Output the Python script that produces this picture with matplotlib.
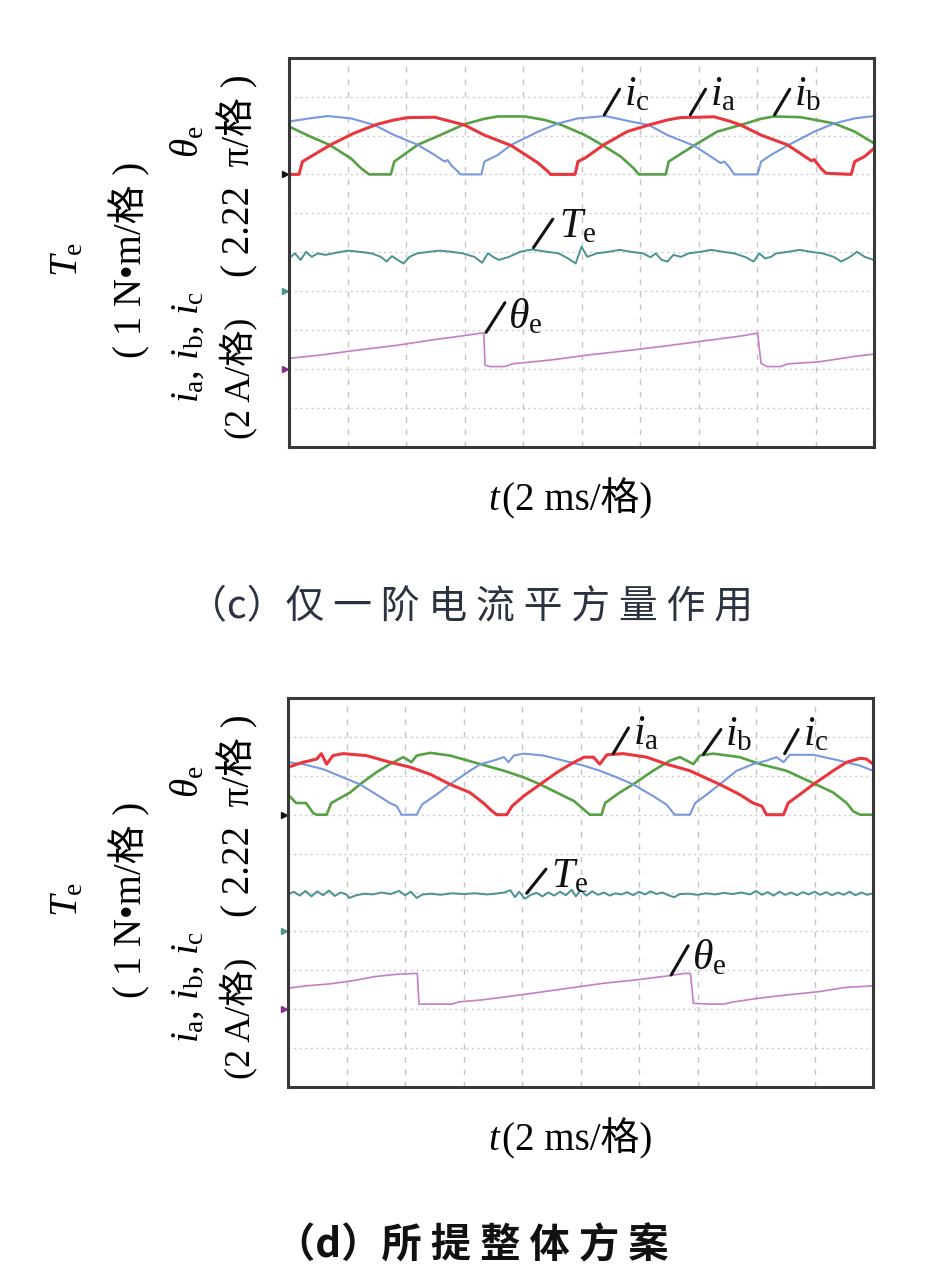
import matplotlib
matplotlib.use("Agg")
import matplotlib.pyplot as plt

plt.rcParams['mathtext.fontset'] = 'custom'
plt.rcParams['mathtext.rm'] = 'Liberation Serif'
plt.rcParams['mathtext.it'] = 'Liberation Serif:italic'
plt.rcParams['font.family'] = ['Liberation Serif', 'Noto Sans CJK SC', 'DejaVu Sans']

# ---------------- data (oscilloscope screen divisions: x 0-10, y 0-10) ----------------
# panel (c)
c_ia_x = [0, 0.17, 0.23, 0.71, 1.11, 1.51, 1.80, 2.03, 2.49, 2.77, 3.0, 3.34, 3.80, 4.14, 4.26, 4.43, 4.47, 4.89,
          4.94, 5.06, 5.38, 5.78, 6.15, 6.47, 6.69, 7.27, 7.55, 7.72, 8.07, 8.52, 8.87, 8.93, 8.98, 9.09, 9.18,
          9.61, 9.67, 9.84, 10.0]
c_ia_y = [7.0, 7.0, 7.33, 7.76, 8.06, 8.29, 8.40, 8.46, 8.47, 8.36, 8.27, 8.01, 7.74, 7.41, 7.29, 7.07, 7.0, 7.0,
          7.33, 7.42, 7.76, 8.10, 8.27, 8.40, 8.46, 8.48, 8.36, 8.27, 8.01, 7.76, 7.41, 7.35, 7.38, 7.16, 7.03,
          7.0, 7.33, 7.46, 7.67]
c_ib_x = [0, 0.37, 0.69, 1.06, 1.23, 1.37, 1.74, 1.80, 2.2, 2.66, 3.0, 3.34, 3.57, 4.03, 4.37, 4.66, 5.06,
          5.35, 5.67, 5.89, 5.98, 6.44, 6.49, 6.92, 7.32, 7.72, 8.07, 8.29, 8.75, 9.32, 9.67, 10.0]
c_ib_y = [8.23, 7.97, 7.76, 7.41, 7.16, 7.0, 7.0, 7.33, 7.76, 8.06, 8.29, 8.43, 8.49, 8.49, 8.40, 8.27, 8.01,
          7.76, 7.46, 7.16, 7.0, 7.0, 7.33, 7.74, 8.10, 8.27, 8.43, 8.49, 8.47, 8.31, 8.10, 7.80]
c_ic_x = [0, 0.4, 0.66, 1.06, 1.46, 1.80, 2.2, 2.49, 2.66, 2.71, 2.77, 2.89, 2.93, 3.29, 3.34, 3.57, 3.80,
          4.26, 4.60, 4.94, 5.41, 5.84, 6.15, 6.47, 6.92, 7.21, 7.38, 7.44, 7.52, 7.61, 8.01, 8.07, 8.24,
          8.52, 8.98, 9.32, 9.67, 10.0]
c_ic_y = [8.36, 8.45, 8.50, 8.44, 8.27, 8.01, 7.76, 7.50, 7.33, 7.37, 7.24, 7.07, 7.0, 7.0, 7.33, 7.50, 7.76,
          8.10, 8.31, 8.44, 8.50, 8.36, 8.27, 8.01, 7.74, 7.46, 7.29, 7.33, 7.20, 7.0, 7.0, 7.33, 7.50,
          7.74, 8.10, 8.31, 8.44, 8.50]
c_te_x = [0, 0.10, 0.20, 0.29, 0.39, 0.49, 0.62, 0.82, 1.01, 1.21, 1.41, 1.57, 1.67, 1.76, 1.86, 1.96, 2.06,
          2.19, 2.39, 2.58, 2.78, 2.97, 3.17, 3.30, 3.40, 3.50, 3.59, 3.76, 3.95, 4.15, 4.41, 4.61, 4.77,
          4.90, 5.0, 5.10, 5.26, 5.46, 5.65, 5.85, 6.05, 6.18, 6.27, 6.37, 6.47, 6.57, 6.70, 6.83, 7.03,
          7.22, 7.42, 7.61, 7.81, 7.94, 8.04, 8.14, 8.24, 8.33, 8.53, 8.73, 8.92, 9.12, 9.31, 9.44, 9.58,
          9.71, 9.84, 10.0]
c_te_y = [4.84, 4.97, 4.80, 5.01, 4.88, 4.97, 4.93, 4.99, 5.04, 5.01, 4.97, 4.88, 4.76, 4.90, 4.80, 4.71, 4.88,
          4.97, 5.01, 5.04, 5.01, 4.97, 4.88, 4.73, 4.97, 4.87, 4.80, 4.88, 5.01, 5.07, 5.01, 4.97, 4.84,
          4.71, 5.14, 4.88, 4.97, 5.01, 5.06, 5.01, 4.97, 4.87, 4.97, 4.80, 4.76, 4.93, 4.88, 4.97, 5.01,
          5.06, 5.01, 4.97, 4.87, 4.76, 4.97, 4.84, 4.88, 4.97, 5.01, 5.06, 5.01, 4.97, 4.88, 4.76, 4.87,
          5.01, 4.88, 4.80]
c_th_x = [0, 0.56, 1.21, 1.86, 2.52, 2.97, 3.33, 3.35, 3.43, 3.69, 3.82, 4.48, 5.13, 5.78, 6.44, 7.09, 7.75,
          8.01, 8.07, 8.17, 8.40, 8.53, 9.05, 9.71, 10.0]
c_th_y = [2.27, 2.36, 2.49, 2.61, 2.76, 2.85, 2.93, 2.10, 2.06, 2.06, 2.13, 2.23, 2.36, 2.47, 2.59, 2.72, 2.85,
          2.92, 2.14, 2.06, 2.06, 2.13, 2.18, 2.33, 2.38]

# panel (d)
d_ia_x = [0, 0.26, 0.49, 0.57, 0.66, 0.77, 0.94, 1.34, 1.74, 2.09, 2.43, 2.77, 3.11, 3.34, 3.49, 3.57, 3.74,
          3.83, 4.03, 4.31, 4.60, 4.83, 5.06, 5.22, 5.33, 5.45, 5.73, 6.13, 6.47, 6.87, 7.38, 7.72, 7.95,
          8.10, 8.18, 8.47, 8.55, 8.75, 8.98, 9.32, 9.55, 9.78, 9.89, 10.0]
d_ia_y = [8.22, 8.35, 8.43, 8.57, 8.30, 8.52, 8.57, 8.52, 8.35, 8.22, 8.04, 7.78, 7.57, 7.30, 7.09, 7.0, 7.0,
          7.22, 7.48, 7.78, 8.09, 8.30, 8.48, 8.48, 8.30, 8.54, 8.57, 8.48, 8.30, 8.13, 7.78, 7.52, 7.30,
          7.22, 7.0, 7.0, 7.30, 7.52, 7.78, 8.13, 8.35, 8.45, 8.43, 8.30]
d_ib_x = [0, 0.14, 0.31, 0.43, 0.49, 0.66, 0.74, 1.06, 1.23, 1.51, 1.74, 1.97, 2.11, 2.20, 2.43, 2.77, 3.29,
          3.69, 4.03, 4.31, 4.66, 4.89, 5.06, 5.16, 5.36, 5.42, 5.67, 5.90, 6.24, 6.53, 6.70, 6.93, 7.04,
          7.27, 7.72, 8.07, 8.52, 8.98, 9.32, 9.55, 9.66, 9.78, 10.0]
d_ib_y = [7.52, 7.30, 7.30, 7.04, 7.0, 7.0, 7.30, 7.57, 7.78, 8.09, 8.30, 8.48, 8.35, 8.52, 8.59, 8.52, 8.30,
          8.13, 7.96, 7.78, 7.52, 7.35, 7.13, 7.0, 7.0, 7.30, 7.57, 7.78, 8.13, 8.39, 8.48, 8.30, 8.52,
          8.57, 8.48, 8.30, 8.13, 7.81, 7.57, 7.30, 7.09, 7.0, 7.0]
d_ic_x = [0, 0.26, 0.60, 0.94, 1.23, 1.51, 1.74, 1.86, 1.94, 2.20, 2.29, 2.54, 2.77, 3.11, 3.29, 3.51, 3.69,
          3.77, 3.86, 4.03, 4.37, 4.71, 5.06, 5.33, 5.62, 5.90, 6.24, 6.47, 6.61, 6.87, 6.96, 7.16, 7.38,
          7.67, 7.95, 8.18, 8.35, 8.47, 8.58, 8.98, 9.43, 9.78, 10.0]
d_ic_y = [8.35, 8.30, 8.17, 7.96, 7.78, 7.52, 7.30, 7.22, 7.0, 7.0, 7.26, 7.52, 7.78, 8.13, 8.30, 8.39, 8.48,
          8.35, 8.52, 8.57, 8.52, 8.39, 8.26, 8.13, 7.96, 7.78, 7.48, 7.26, 7.0, 7.0, 7.30, 7.52, 7.78,
          8.13, 8.30, 8.39, 8.48, 8.35, 8.54, 8.54, 8.39, 8.26, 8.13]
d_te_x = [0.0, 0.1, 0.2, 0.3, 0.4, 0.5, 0.6, 0.7, 0.8, 0.9, 1.0, 1.05, 1.15, 1.3, 1.45, 1.6, 1.75, 1.9, 2.0,
          2.1, 2.2, 2.3, 2.45, 2.6, 2.8, 3.0, 3.2, 3.4, 3.55, 3.7, 3.8, 3.88, 3.95, 4.05, 4.15, 4.25, 4.35,
          4.45, 4.55, 4.65, 4.75, 4.85, 4.92, 5.0, 5.1, 5.2, 5.3, 5.4, 5.5, 5.6, 5.7, 5.8, 5.9, 6.0, 6.1,
          6.2, 6.3, 6.4, 6.5, 6.6, 6.7, 6.85, 7.0, 7.15, 7.3, 7.45, 7.6, 7.75, 7.9, 8.0, 8.1, 8.2, 8.3,
          8.4, 8.5, 8.6, 8.7, 8.8, 8.9, 9.0, 9.1, 9.2, 9.3, 9.4, 9.5, 9.6, 9.7, 9.8, 9.9, 10.0]
d_te_y = [4.95, 5.02, 4.92, 5.04, 4.90, 5.03, 4.93, 5.05, 4.91, 5.00, 4.95, 4.86, 4.92, 4.97, 4.95, 5.0, 4.96,
          5.04, 4.93, 5.02, 4.86, 4.95, 4.97, 4.94, 4.98, 4.96, 4.98, 4.95, 4.97, 5.0, 5.06, 4.88, 5.02,
          4.84, 4.94, 4.99, 4.90, 5.00, 4.92, 5.02, 4.93, 5.07, 4.90, 5.06, 4.92, 5.03, 4.94, 5.0, 4.92,
          4.98, 4.95, 5.01, 4.93, 5.02, 4.95, 5.03, 4.96, 5.0, 4.93, 4.88, 4.96, 4.97, 4.94, 4.98, 4.95,
          4.99, 4.96, 5.0, 4.95, 5.04, 4.94, 5.01, 4.92, 5.02, 4.94, 5.0, 4.93, 5.01, 4.95, 5.02, 4.94,
          5.01, 4.93, 5.0, 4.94, 5.02, 4.93, 5.0, 4.94, 4.98]
d_th_x = [0, 0.31, 0.71, 1.10, 1.49, 1.88, 2.21, 2.24, 2.54, 2.80, 2.93, 3.32, 3.84, 4.37, 4.89, 5.41, 5.93,
          6.46, 6.78, 6.88, 6.93, 7.24, 7.44, 7.63, 8.03, 8.55, 9.07, 9.53, 10.0]
d_th_y = [2.54, 2.60, 2.65, 2.73, 2.84, 2.90, 2.92, 2.13, 2.13, 2.13, 2.19, 2.24, 2.34, 2.45, 2.56, 2.67, 2.75,
          2.85, 2.92, 2.92, 2.15, 2.13, 2.13, 2.19, 2.28, 2.37, 2.45, 2.56, 2.60]

trace_names = ["ib", "ic", "ia", "te", "th"]
trace_colors = {"ia": "#e8363c", "ib": "#56a046", "ic": "#7898de", "te": "#4b9292", "th": "#c77cc8"}
trace_widths = {"ia": 2.2, "ib": 1.9, "ic": 1.5, "te": 1.4, "th": 1.2}

panel_c = {"ia": (c_ia_x, c_ia_y), "ib": (c_ib_x, c_ib_y), "ic": (c_ic_x, c_ic_y),
           "te": (c_te_x, c_te_y), "th": (c_th_x, c_th_y)}
panel_d = {"ia": (d_ia_x, d_ia_y), "ib": (d_ib_x, d_ib_y), "ic": (d_ic_x, d_ic_y),
           "te": (d_te_x, d_te_y), "th": (d_th_x, d_th_y)}

# in-plot labels: text, pointer start, pointer end, text position
labels_c = [(r"$i_{\rm c}$", (5.39, 8.53), (5.65, 9.19), (5.72, 8.78)),
            (r"$i_{\rm a}$", (6.86, 8.53), (7.12, 9.19), (7.19, 8.78)),
            (r"$i_{\rm b}$", (8.30, 8.53), (8.56, 9.19), (8.63, 8.78)),
            (r"$T_{\rm e}$", (4.18, 5.12), (4.51, 5.85), (4.62, 5.38)),
            (r"$\theta_{\rm e}$", (3.37, 2.94), (3.69, 3.70), (3.75, 3.05))]
labels_d = [(r"$i_{\rm a}$", (5.56, 8.57), (5.82, 9.23), (5.89, 8.82)),
            (r"$i_{\rm b}$", (7.10, 8.55), (7.40, 9.19), (7.47, 8.78)),
            (r"$i_{\rm c}$", (8.49, 8.57), (8.72, 9.19), (8.80, 8.78)),
            (r"$T_{\rm e}$", (4.08, 4.98), (4.41, 5.60), (4.50, 5.14)),
            (r"$\theta_{\rm e}$", (6.55, 2.88), (6.84, 3.63), (6.90, 3.02))]

W, H = 926, 1283
fig = plt.figure(figsize=(W / 100, H / 100), dpi=100)
fig.patch.set_facecolor("white")

CJK = ['Liberation Serif', 'Noto Sans CJK SC', 'DejaVu Sans']


def fx(px):
    return px / W


def fy(py):
    return 1 - py / H


def draw_panel(rect, traces, labels):
    ax = fig.add_axes(rect)
    ax.set_xlim(0, 10)
    ax.set_ylim(0, 10)
    ax.set_xticks(range(1, 10))
    ax.set_yticks(range(1, 10))
    ax.tick_params(length=0, labelbottom=False, labelleft=False)
    ax.xaxis.grid(True, color="#c4c4c4", linewidth=1.0, linestyle=(0, (4, 5)))
    ax.yaxis.grid(True, color="#cccccc", linewidth=1.0, linestyle=(0, (1.5, 2.5)))
    ax.set_axisbelow(True)
    for s in ax.spines.values():
        s.set_linewidth(2.2)
        s.set_color("#383838")
    for name in trace_names:
        x, y = traces[name]
        ax.plot(x, y, color=trace_colors[name], lw=trace_widths[name], solid_joinstyle="round")
    # channel reference markers on the left edge
    for lvl, col in ((7, "#111111"), (4, trace_colors["te"]), (2, "#8a2c8a")):
        ax.plot([-0.06], [lvl], marker=">", ms=5, color=col, clip_on=False)
    for txt, p0, p1, tp in labels:
        ax.annotate("", xy=p0, xytext=p1,
                    arrowprops=dict(arrowstyle="-", lw=2.2, color="#111111", shrinkA=0, shrinkB=0))
        ax.text(tp[0], tp[1], txt, fontsize=30, ha="left", va="baseline", color="#111111")
    return ax


draw_panel([fx(289), fy(446.7), 585 / W, 389 / H], panel_c, labels_c)
draw_panel([fx(288), fy(1087), 585 / W, 389 / H], panel_d, labels_d)

for dy in (0, 640):
    fig.text(fx(68), fy(260 + dy), r"$T_{\rm e}$", rotation=90, fontsize=28,
             ha="center", va="center", rotation_mode="anchor")
    fig.text(fx(130), fy(260 + dy), "( 1 N•m/格 )", rotation=90, fontsize=28, family=CJK,
             ha="center", va="center", rotation_mode="anchor")
    fig.text(fx(188), fy(347 + dy), r"$i_{\rm a}$, $i_{\rm b}$, $i_{\rm c}$", rotation=90, fontsize=28,
             ha="center", va="center", rotation_mode="anchor")
    fig.text(fx(188), fy(142 + dy), r"$\theta_{\rm e}$", rotation=90, fontsize=28,
             ha="center", va="center", rotation_mode="anchor")
    fig.text(fx(238), fy(378 + dy), "(2 A/格)", rotation=90, fontsize=26, family=CJK,
             ha="center", va="center", rotation_mode="anchor")
    fig.text(fx(238), fy(176 + dy), "( 2.22  π/格 )", rotation=90, fontsize=28, family=CJK,
             ha="center", va="center", rotation_mode="anchor")
    fig.text(fx(502), fy(510 + dy), r"$t$", fontsize=28, ha="right", va="baseline")
    fig.text(fx(502), fy(510 + dy), "(2 ms/格)", fontsize=28, family=CJK, ha="left", va="baseline")

fig.text(fx(470), fy(607), "（c）仅 一 阶 电 流 平 方 量 作 用", fontsize=28, color="#2c3340",
         family=['Noto Sans CJK SC', 'DejaVu Sans'], ha="center", va="center")
fig.text(fx(472), fy(1245), "（d）所 提 整 体 方 案", fontsize=29, fontweight="bold", color="#111111",
         family=['Noto Sans CJK SC', 'DejaVu Sans'], ha="center", va="center")

fig.savefig("out.png", dpi=100, facecolor="white")
